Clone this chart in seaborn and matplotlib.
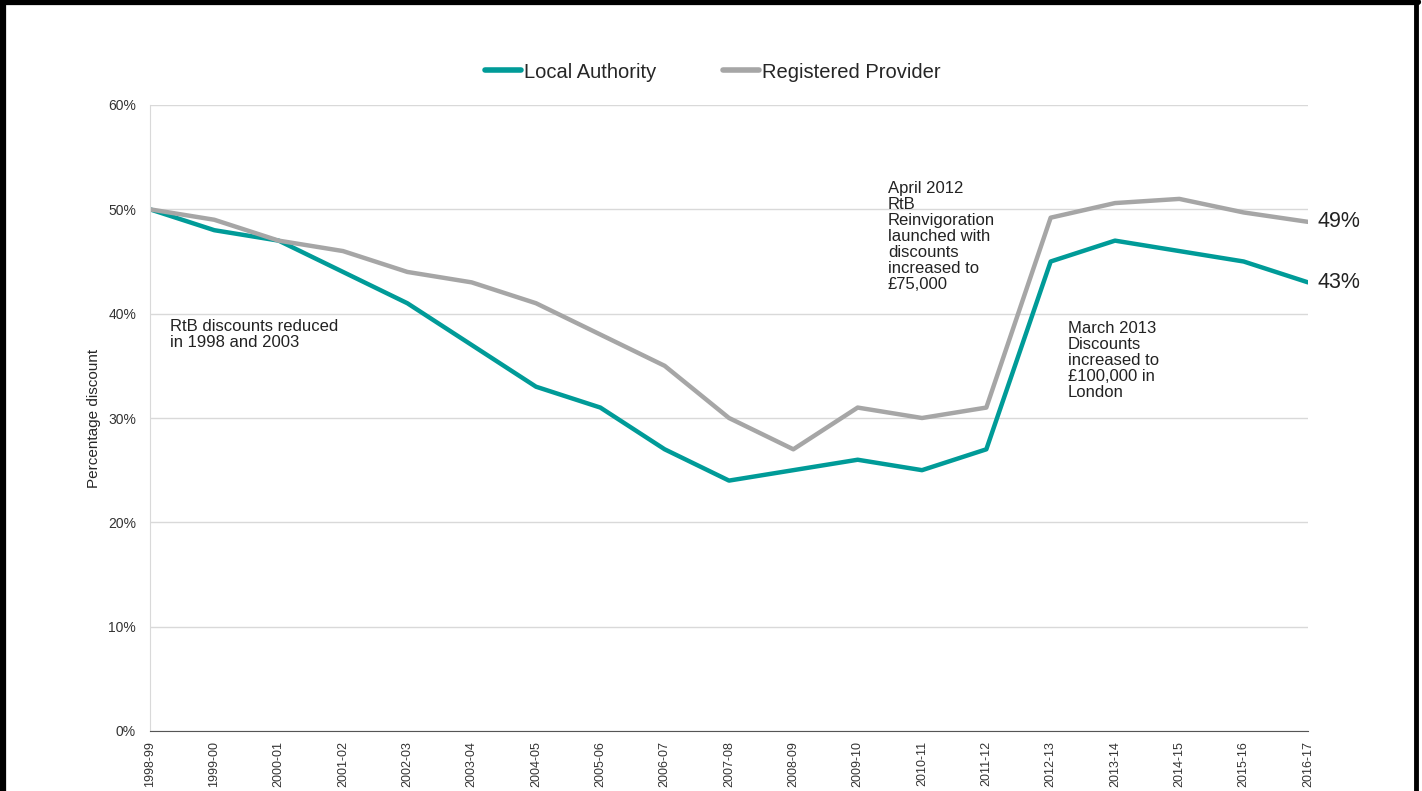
import pandas as pd
import numpy as np
import matplotlib.pyplot as plt
import matplotlib.lines as mlines
import seaborn as sns

# ── Data ────────────────────────────────────────────────────────────────────
YEARS = ['1998-99', '1999-00', '2000-01', '2001-02', '2002-03', '2003-04',
         '2004-05', '2005-06', '2006-07', '2007-08', '2008-09', '2009-10',
         '2010-11', '2011-12', '2012-13', '2013-14', '2014-15', '2015-16',
         '2016-17']
LOCAL_AUTH = [50, 48, 47, 44, 41, 37, 33, 31, 27, 24, 25, 26, 25, 27,
              45, 47, 46, 45, 43]
REG_PROV = [50, 49, 47, 46, 44, 43, 41, 38, 35, 30, 27, 31, 30, 31,
            49.2, 50.6, 51, 49.7, 48.8]
SERIES = ['Local Authority', 'Registered Provider']
COLORS = ['#009B98', '#A6A6A6']

df = pd.DataFrame({
    'year': YEARS * 2,
    'value': LOCAL_AUTH + REG_PROV,
    'series': [SERIES[0]] * len(YEARS) + [SERIES[1]] * len(YEARS),
})

# ── Style ───────────────────────────────────────────────────────────────────
sns.set_style('white')
plt.rcParams['font.family'] = ['Liberation Sans', 'DejaVu Sans']

fig = plt.figure(figsize=(14.22, 7.91), dpi=100)
ax = fig.add_axes([150 / 1422, 1 - 731 / 791, 1158 / 1422, 626 / 791])

sns.lineplot(data=df, x='year', y='value', hue='series', hue_order=SERIES,
             palette=COLORS, linewidth=3.2, ax=ax, legend=False)

ax.set_ylim(0, 60)
ax.set_xlim(0, len(YEARS) - 1)
ax.set_yticks(range(0, 61, 10))
ax.set_yticklabels([f'{v}%' for v in range(0, 61, 10)], fontsize=10, color='#333333')
ax.set_xticks(range(len(YEARS)))
ax.set_xticklabels(YEARS, rotation=90, fontsize=9, color='#333333')
ax.yaxis.grid(True, color='#D9D9D9', linewidth=1)
ax.set_axisbelow(True)
ax.set_xlabel('')
ax.set_ylabel('Percentage discount', fontsize=11, labelpad=5)

for s in ['top', 'right']:
    ax.spines[s].set_visible(False)
ax.spines['left'].set_color('#D9D9D9')
ax.spines['bottom'].set_color('#555555')
ax.tick_params(axis='x', direction='out', length=5, width=1, color='#555555', pad=2)
ax.tick_params(axis='y', direction='out', length=7, width=1, color='#D9D9D9', pad=3)

# end labels
ax.text(len(YEARS) - 1 + 0.15, REG_PROV[-1], f'{round(REG_PROV[-1])}%',
        fontsize=15.5, va='center', ha='left', color='#222222', clip_on=False)
ax.text(len(YEARS) - 1 + 0.15, LOCAL_AUTH[-1], f'{round(LOCAL_AUTH[-1])}%',
        fontsize=15.5, va='center', ha='left', color='#222222', clip_on=False)

# annotations
ax.text(0.31, 38.0, 'RtB discounts reduced\nin 1998 and 2003', fontsize=12,
        va='center', ha='left', color='#222222', linespacing=1.1)
ax.text(11.47, 47.4, 'April 2012\nRtB\nReinvigoration\nlaunched with\ndiscounts\nincreased to\n£75,000',
        fontsize=12, va='center', ha='left', color='#222222', linespacing=1.08)
ax.text(14.27, 35.5, 'March 2013\nDiscounts\nincreased to\n£100,000 in\nLondon',
        fontsize=12, va='center', ha='left', color='#222222', linespacing=1.08)

# legend
handles = [mlines.Line2D([], [], color=c, linewidth=4, label=s)
           for s, c in zip(SERIES, COLORS)]
fig.legend(handles=handles, loc='center', bbox_to_anchor=(713 / 1422, 1 - 72 / 791),
           ncol=2, frameon=False, fontsize=14.5, handlelength=1.8,
           handletextpad=0.15, columnspacing=3.3)

# outer frame (left, top, right)
fig.add_artist(mlines.Line2D([3 / 1422, 3 / 1422], [0, 1], color='black', linewidth=4.5))
fig.add_artist(mlines.Line2D([0, 1418 / 1422], [1 - 2 / 791, 1 - 2 / 791], color='black', linewidth=4.5))
fig.add_artist(mlines.Line2D([1416 / 1422, 1416 / 1422], [0, 1], color='black', linewidth=3.5))

plt.savefig('out.png', dpi=100)
plt.close()
